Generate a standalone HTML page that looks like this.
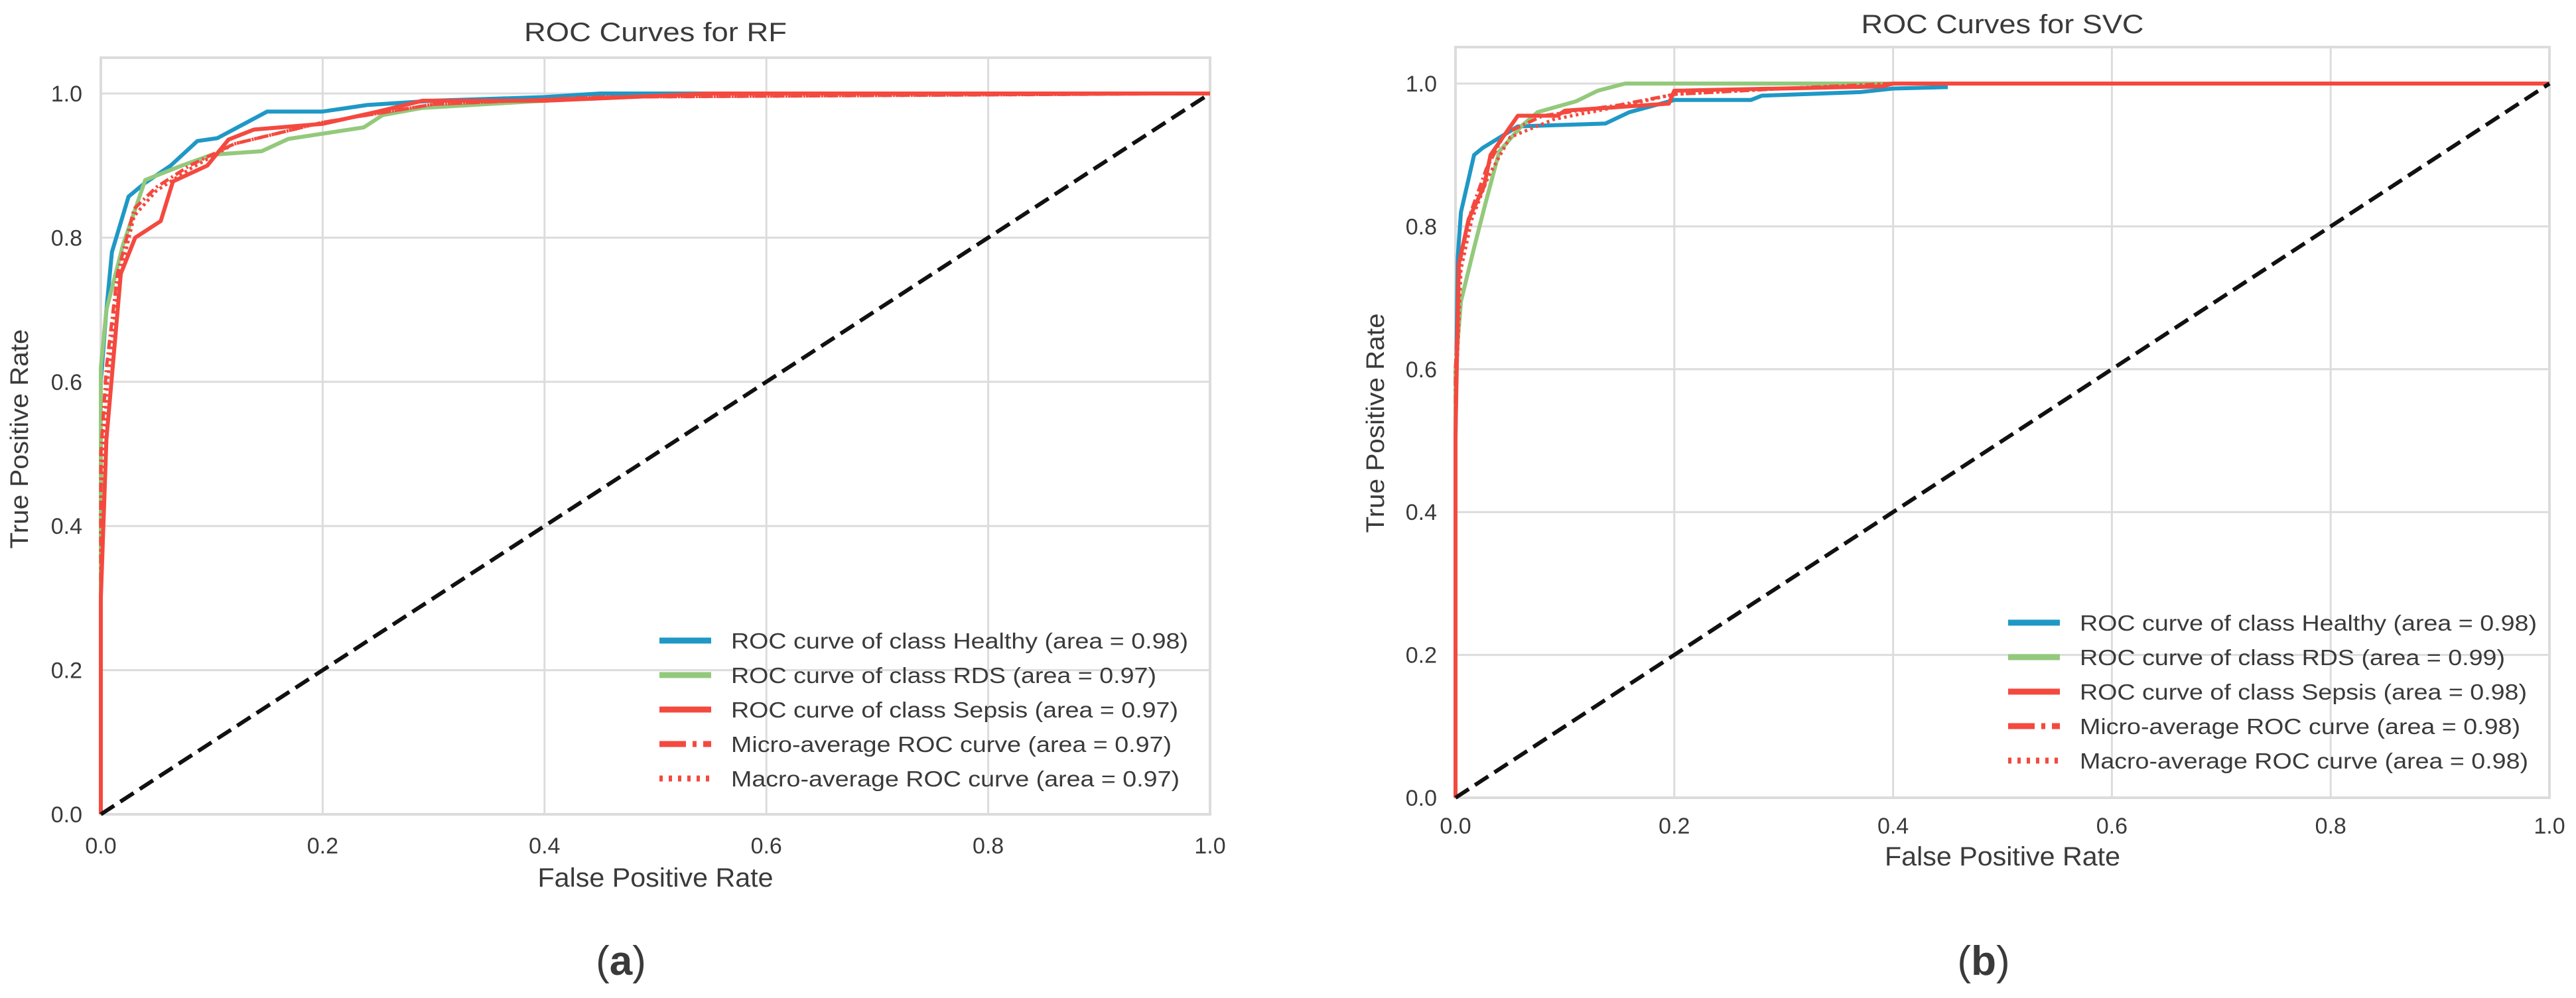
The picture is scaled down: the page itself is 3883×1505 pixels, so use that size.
<!DOCTYPE html>
<html><head><meta charset="utf-8"><style>
html,body{margin:0;padding:0;background:#fff;}
svg{display:block;}
text{font-family:"Liberation Sans",Arial,sans-serif;fill:#3a3a3a;}
</style></head><body>
<svg id="fig" width="3883" height="1505" viewBox="0 0 3883 1505" xmlns="http://www.w3.org/2000/svg"></svg>
<script>
// ---- data: panel (a) RF ----
const xTicks = [0, 0.2, 0.4, 0.6, 0.8, 1.0];
const yTicks = [0, 0.2, 0.4, 0.6, 0.8, 1.0];
const tickLabels = ["0.0","0.2","0.4","0.6","0.8","1.0"];
const rfHealthyFpr = [0,0,0.005,0.01,0.025,0.039,0.063,0.087,0.105,0.15,0.2,0.24,0.3,0.4,0.45,1];
const rfHealthyTpr = [0,0.6,0.7,0.78,0.857,0.875,0.90,0.934,0.938,0.975,0.975,0.984,0.99,0.995,1,1];
const rfRdsFpr = [0,0,0.005,0.02,0.04,0.073,0.1,0.145,0.169,0.237,0.254,0.29,0.4,0.55,1];
const rfRdsTpr = [0,0.62,0.7,0.79,0.88,0.90,0.915,0.92,0.937,0.953,0.97,0.98,0.99,1,1];
const rfSepsisFpr = [0,0,0.005,0.018,0.031,0.054,0.065,0.096,0.115,0.138,0.2,0.25,0.29,0.4,0.55,1];
const rfSepsisTpr = [0,0.3,0.52,0.75,0.80,0.823,0.878,0.90,0.936,0.95,0.958,0.975,0.99,0.99,1,1];
const rfMicroFpr = [0,0,0.005,0.015,0.03,0.05,0.08,0.12,0.2,0.3,0.45,1];
const rfMicroTpr = [0,0.5,0.62,0.75,0.84,0.87,0.90,0.93,0.96,0.985,0.995,1];
const rfMacroFpr = [0,0,0.006,0.016,0.03,0.05,0.08,0.12,0.2,0.3,0.45,1];
const rfMacroTpr = [0,0.45,0.6,0.74,0.83,0.865,0.895,0.93,0.96,0.985,0.995,1];
const rfAreas = ["0.98","0.97","0.97","0.97","0.97"];
// ---- data: panel (b) SVC ----
const svHealthyFpr = [0,0,0.002,0.005,0.017,0.025,0.057,0.137,0.159,0.2,0.27,0.28,0.37,0.40,0.45];
const svHealthyTpr = [0,0.5,0.756,0.82,0.90,0.91,0.94,0.944,0.96,0.977,0.977,0.983,0.988,0.993,0.995];
const svRdsFpr = [0,0,0.005,0.017,0.027,0.04,0.06,0.075,0.11,0.13,0.155,1];
const svRdsTpr = [0,0.6,0.695,0.77,0.83,0.905,0.94,0.96,0.975,0.99,1,1];
const svSepsisFpr = [0,0,0.003,0.012,0.026,0.032,0.057,0.093,0.1,0.195,0.2,0.39,0.4,1];
const svSepsisTpr = [0,0.51,0.747,0.81,0.856,0.90,0.955,0.955,0.962,0.972,0.99,0.996,1,1];
const svMicroFpr = [0,0,0.004,0.014,0.028,0.045,0.08,0.15,0.2,0.3,0.4,1];
const svMicroTpr = [0,0.6,0.75,0.82,0.88,0.93,0.955,0.97,0.985,0.993,1,1];
const svMacroFpr = [0,0,0.005,0.015,0.03,0.05,0.09,0.15,0.2,0.3,0.4,1];
const svMacroTpr = [0,0.55,0.74,0.81,0.87,0.925,0.95,0.968,0.985,0.993,1,1];
const svAreas = ["0.98","0.99","0.98","0.98","0.98"];

const NS = "http://www.w3.org/2000/svg";
const svg = document.getElementById('fig');
function mk(tag, attrs, parent){const e=document.createElementNS(NS,tag);for(const k in attrs)e.setAttribute(k,attrs[k]);(parent||svg).appendChild(e);return e;}
function stretch(t, len){t.setAttribute('textLength', len);t.setAttribute('lengthAdjust','spacingAndGlyphs');}
const COL = {blue:"#1f98c6", green:"#93c97c", red:"#f4493f"};

function panel(cfg){
  const g = mk('g',{});
  
  
  const sx = v => cfg.x0 + v*(cfg.x1-cfg.x0);
  const sy = v => cfg.y0 - v*(cfg.y0-cfg.y1);
  const top = cfg.top;
  const frame = mk('rect',{x:cfg.x0,y:top,width:cfg.x1-cfg.x0,height:cfg.y0-top,fill:"#fff",stroke:"#dcdcdc","stroke-width":4},g);
  
  
  xTicks.forEach((t,i)=>{
    const l = mk('line',{x1:sx(t),x2:sx(t),y1:top,y2:cfg.y0,stroke:"#dcdcdc","stroke-width":3},g);
    
    
    const tx = mk('text',{x:sx(t),y:cfg.tickY,"font-size":34,"text-anchor":"middle"},g);
    tx.textContent = tickLabels[i];
    
    
  });
  yTicks.forEach((t,i)=>{
    const l = mk('line',{x1:cfg.x0,x2:cfg.x1,y1:sy(t),y2:sy(t),stroke:"#dcdcdc","stroke-width":3},g);
    
    
    const tx = mk('text',{x:cfg.x0-28,y:sy(t)+12,"font-size":34,"text-anchor":"end"},g);
    tx.textContent = tickLabels[i];
    
    
  });
  const series = cfg.series;
  series.forEach(s=>{
    const pts = s.fpr.map((f,i)=>sx(f).toFixed(1)+','+sy(s.tpr[i]).toFixed(1)).join(' ');
    const p = mk('polyline',{points:pts,fill:"none",stroke:s.color,"stroke-width":s.w,"stroke-dasharray":s.dash||"none","stroke-linejoin":"round"},g);
    
    
  });
  const d = mk('line',{x1:sx(0),y1:sy(0),x2:sx(1),y2:sy(1),stroke:"#111","stroke-width":6,"stroke-dasharray":"24 11"},g);
  
  
  series.forEach((s,i)=>{
    const y = cfg.legY + i*cfg.legStep;
    const le = mk('g',{},g);
    
    
    mk('line',{x1:cfg.legX,x2:cfg.legX+78,y1:y,y2:y,stroke:s.color,"stroke-width":9,"stroke-dasharray":s.legDash||"none"},le);
    const t = mk('text',{x:cfg.legX+108,y:y+12,"font-size":33},le);
    t.textContent = s.label;
    stretch(t, (t.getComputedTextLength()*1.14).toFixed(0));
  });
  const tt = mk('text',{x:(cfg.x0+cfg.x1)/2,y:cfg.titleY,"font-size":40,"text-anchor":"middle"},g);
  tt.textContent = cfg.title;
  stretch(tt, cfg.titleW);
  
  
  const xl = mk('text',{x:(cfg.x0+cfg.x1)/2,y:cfg.xlabY,"font-size":40,"text-anchor":"middle"},g);
  xl.textContent = "False Positive Rate";
  stretch(xl, 355);
  
  
  const yl = mk('text',{x:0,y:0,"font-size":38,"text-anchor":"middle",transform:`translate(${cfg.ylabX},${cfg.ylabCY}) rotate(-90)`},g);
  yl.textContent = "True Positive Rate";
  stretch(yl, 331);
  
  
  const pl = mk('text',{x:cfg.panelX,y:1470,"font-size":62,"text-anchor":"middle",fill:"#000"},g);
  pl.setAttribute('font-family','"Liberation Serif",serif');
  pl.innerHTML = '(<tspan font-weight="bold">'+cfg.letter+'</tspan>)';
  
  
}
function mkSeries(p,areas,h,r,se,mi,ma){
  return [
    {id:p+'-healthy-curve',fpr:h[0],tpr:h[1],color:COL.blue,w:6,label:`ROC curve of class Healthy (area = ${areas[0]})`},
    {id:p+'-rds-curve',fpr:r[0],tpr:r[1],color:COL.green,w:6,label:`ROC curve of class RDS (area = ${areas[1]})`},
    {id:p+'-sepsis-curve',fpr:se[0],tpr:se[1],color:COL.red,w:6,label:`ROC curve of class Sepsis (area = ${areas[2]})`},
    {id:p+'-micro-average-curve',fpr:mi[0],tpr:mi[1],color:COL.red,w:5,dash:"14 5 3 5",legDash:"40 10 6 10",label:`Micro-average ROC curve (area = ${areas[3]})`},
    {id:p+'-macro-average-curve',fpr:ma[0],tpr:ma[1],color:COL.red,w:5,dash:"4 5",legDash:"5 9",label:`Macro-average ROC curve (area = ${areas[4]})`}
  ];
}
panel({name:'rf-roc-chart',x0:152,x1:1824,y0:1228,y1:141,top:87,tickY:1287,xlabY:1337,titleY:62,titleW:396,ylabX:42,ylabCY:662,
  legX:994,legY:966,legStep:52,panelX:936,letter:'a',title:'ROC Curves for RF',
  series:mkSeries('rf',rfAreas,[rfHealthyFpr,rfHealthyTpr],[rfRdsFpr,rfRdsTpr],[rfSepsisFpr,rfSepsisTpr],[rfMicroFpr,rfMicroTpr],[rfMacroFpr,rfMacroTpr])});
panel({name:'svc-roc-chart',x0:2194,x1:3843,y0:1203,y1:126,top:71,tickY:1257,xlabY:1305,titleY:50,titleW:426,ylabX:2086,ylabCY:638,
  legX:3027,legY:939,legStep:52,panelX:2990,letter:'b',title:'ROC Curves for SVC',
  series:mkSeries('svc',svAreas,[svHealthyFpr,svHealthyTpr],[svRdsFpr,svRdsTpr],[svSepsisFpr,svSepsisTpr],[svMicroFpr,svMicroTpr],[svMacroFpr,svMacroTpr])});
</script>
</body></html>
